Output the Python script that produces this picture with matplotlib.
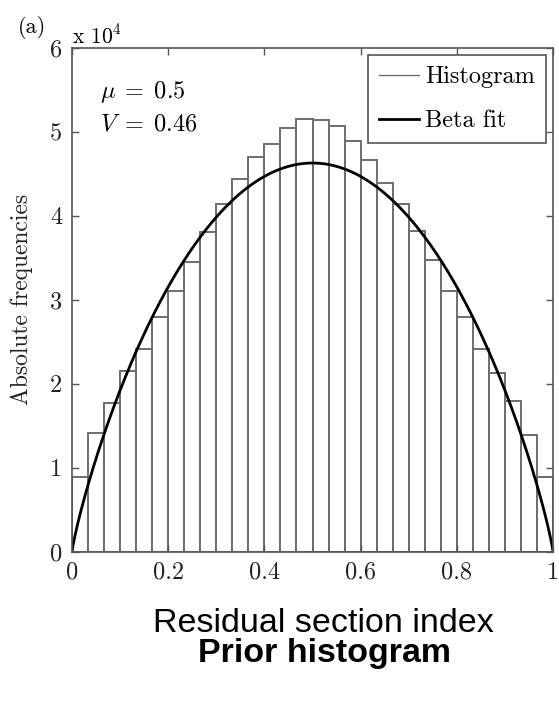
import numpy as np
import matplotlib.pyplot as plt
from matplotlib.lines import Line2D
from math import gamma

# histogram counts (x 10^4), 30 equal bins on [0, 1]
bin_edges = np.linspace(0, 1, 31)
counts = np.array([0.89, 1.41, 1.77, 2.15, 2.42, 2.79, 3.10, 3.45, 3.81, 4.14,
                   4.44, 4.70, 4.86, 5.05, 5.15, 5.14, 5.07, 4.89, 4.67, 4.39,
                   4.14, 3.82, 3.47, 3.10, 2.80, 2.42, 2.13, 1.79, 1.39, 0.89]) * 1e4

# beta fit parameters
a_fit, b_fit = 1.86, 1.86
fit_peak = 4.63e4

xticks = [0, 0.2, 0.4, 0.6, 0.8, 1]
xtick_labels = ['0', '0.2', '0.4', '0.6', '0.8', '1']
yticks = [0, 1e4, 2e4, 3e4, 4e4, 5e4, 6e4]
ytick_labels = ['0', '1', '2', '3', '4', '5', '6']

cm = 'cmr10'
plt.rcParams['mathtext.fontset'] = 'cm'

fig = plt.figure(figsize=(5.59, 7.04), dpi=100)
ax = fig.add_axes([72/559, 1 - 551.7/704, 481/559, (551.7 - 48)/704])

widths = np.diff(bin_edges)
ax.bar(bin_edges[:-1], counts, width=widths, align='edge', color='white',
       edgecolor='#6e6e6e', linewidth=1.4)

x = np.linspace(0, 1, 500)
B = gamma(a_fit) * gamma(b_fit) / gamma(a_fit + b_fit)
pdf = x**(a_fit - 1) * (1 - x)**(b_fit - 1) / B
mode = (a_fit - 1) / (a_fit + b_fit - 2)
pdf_max = mode**(a_fit - 1) * (1 - mode)**(b_fit - 1) / B
ax.plot(x, pdf / pdf_max * fit_peak, color='black', linewidth=2)

ax.set_xlim(0, 1)
ax.set_ylim(0, 6e4)
ax.set_xticks(xticks)
ax.set_xticklabels(xtick_labels, fontfamily=cm, fontsize=17.5)
ax.set_yticks(yticks)
ax.set_yticklabels(ytick_labels, fontfamily=cm, fontsize=17.5)
ax.tick_params(direction='in', length=5, width=1, color='#555555',
               top=True, right=True, pad=7, labelcolor='#222222')
for s in ax.spines.values():
    s.set_color('#555555')
    s.set_linewidth(1.2)

ax.set_ylabel('Absolute frequencies', fontfamily=cm, fontsize=17, labelpad=12,
              color='#222222')

handles = [Line2D([], [], color='#707070', linewidth=1),
           Line2D([], [], color='black', linewidth=2)]
leg = ax.legend(handles, ['Histogram', 'Beta fit'], loc='upper right',
                prop={'family': cm, 'size': 17.5}, fancybox=False,
                edgecolor='#555555', framealpha=1, handlelength=1.65,
                borderaxespad=0.3, labelspacing=0.9, handletextpad=0.25,
                borderpad=0.45)
leg.get_frame().set_linewidth(1.2)

ax.text(0.058, 0.9007, r'$\mu\;=\;0.5$', transform=ax.transAxes, fontsize=17.5,
        va='baseline')
ax.text(0.058, 0.837, r'$V\;=\;0.46$', transform=ax.transAxes, fontsize=17.5,
        va='baseline')

fig.text(18/559, 1 - 33/704, '(a)', fontfamily=cm, fontsize=16, va='baseline')
fig.text(72/559, 1 - 43/704, r'x 10$^4$', fontfamily=cm, fontsize=15.5, va='baseline')

fig.text(323/559, 1 - 632/704, 'Residual section index', fontfamily='Liberation Sans',
         fontsize=24.5, ha='center', va='baseline')
fig.text(325/559, 1 - 662/704, 'Prior histogram', fontfamily='Liberation Sans',
         fontsize=24.5, fontweight='bold', ha='center', va='baseline')

fig.savefig('out.png', dpi=100)
